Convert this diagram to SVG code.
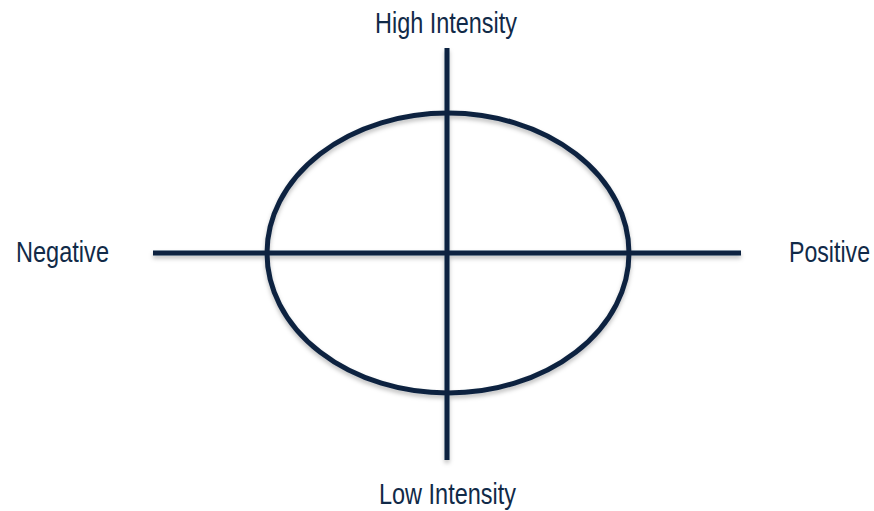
<svg xmlns="http://www.w3.org/2000/svg" width="874" height="511" viewBox="0 0 874 511">
<style>
.ln{stroke:#0c2340;stroke-width:5;fill:none}
.lb{font-family:"Liberation Sans Narrow","Liberation Sans",Arial,sans-serif;font-size:29px;fill:#112a48}
</style>
<defs>
<filter id="sh" x="-10%" y="-10%" width="120%" height="130%">
<feDropShadow dx="0" dy="3" stdDeviation="2" flood-color="#000" flood-opacity="0.25"/>
</filter>
</defs>
<rect width="874" height="511" fill="#fff"/>
<g id="connectors" filter="url(#sh)">
<line class="ln" x1="153" y1="253" x2="741" y2="253"/>
<line class="ln" x1="447" y1="48" x2="447" y2="460"/>
<ellipse class="ln" cx="448" cy="253" rx="181" ry="140"/>
</g>
<g id="high"><text class="lb" x="375" y="33" textLength="142" lengthAdjust="spacingAndGlyphs">High Intensity</text></g>
<g id="low"><text class="lb" x="379" y="504" textLength="137" lengthAdjust="spacingAndGlyphs">Low Intensity</text></g>
<g id="negative"><text class="lb" x="16" y="262" textLength="93" lengthAdjust="spacingAndGlyphs">Negative</text></g>
<g id="positive"><text class="lb" x="789" y="262" textLength="81" lengthAdjust="spacingAndGlyphs">Positive</text></g>
</svg>
